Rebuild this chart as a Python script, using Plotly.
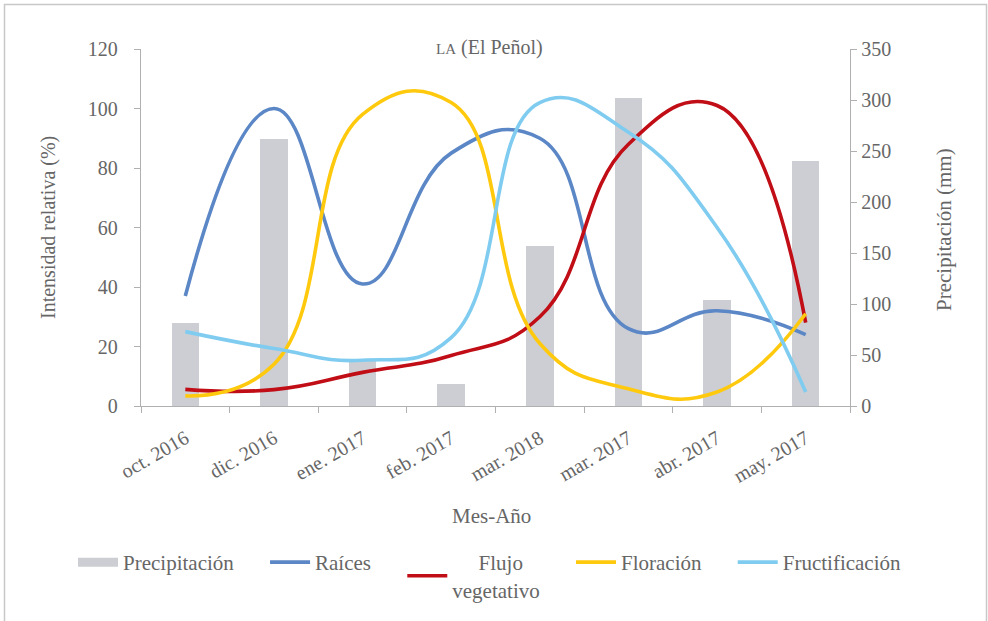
import plotly.graph_objects as go

# Monthly phenology intensities (%) and rainfall (mm) for the LA (El Peñol) site
months = ["oct. 2016", "dic. 2016", "ene. 2017", "feb. 2017",
          "mar. 2018", "mar. 2017", "abr. 2017", "may. 2017"]
precipitacion = [81, 262, 45, 22, 157, 302, 104, 240]
raices = [37, 100, 41, 85, 90, 26, 32, 24]
flujo_vegetativo = [5.6, 5.5, 11.3, 17, 30, 88, 101, 28]
floracion = [3.4, 14, 98, 102, 21, 5.8, 4.7, 31]
fructificacion = [25, 19.3, 15.4, 23, 102, 92, 60, 4.7]

W, H = 988, 621
L, R, T, B = 141, 850, 49, 406   # plot area in pixels


def px_x(x):
    return (x - L) / (R - L)


def px_y(y):
    return (B - y) / (B - T)


FONT = "Liberation Serif, DejaVu Serif, serif"
TXT = "#666666"
AXIS = "#b0b0b0"
BAR = "#cdced3"
GAP = "&nbsp;" * 5   # extra room between legend entries

fig = go.Figure()

fig.add_trace(go.Bar(
    x=months, y=precipitacion, name="Precipitación",
    marker=dict(color=BAR, line=dict(width=0)),
    width=0.31, yaxis="y", showlegend=False,
))
# wide grey swatch for the rainfall legend entry
fig.add_trace(go.Scatter(
    x=[None], y=[None], name="Precipitación" + GAP, mode="lines", yaxis="y",
    line=dict(color=BAR, width=9),
))

series = [
    ("Raíces" + GAP, raices, "#5b87c6"),
    ("&nbsp;&nbsp;&nbsp;&nbsp;&nbsp;Flujo<br>vegetativo" + GAP,
     flujo_vegetativo, "#c00d16"),
    ("Floración" + GAP, floracion, "#ffc90e"),
    ("Fructificación", fructificacion, "#7fccf0"),
]
for name, vals, col in series:
    fig.add_trace(go.Scatter(
        x=months, y=vals, name=name, mode="lines", yaxis="y2",
        line=dict(color=col, width=3.6, shape="spline", smoothing=1.3),
    ))

fig.update_layout(
    width=W, height=H,
    margin=dict(l=L, r=W - R, t=T, b=H - B, autoexpand=False),
    paper_bgcolor="white", plot_bgcolor="white",
    font=dict(family=FONT, size=20, color=TXT),
    showlegend=True,
    legend=dict(orientation="h", xref="paper", yref="paper",
                x=px_x(73), xanchor="left",
                y=px_y(576), yanchor="middle",
                font=dict(family=FONT, size=21, color=TXT),
                itemwidth=40, traceorder="normal"),
    bargap=0,
    xaxis=dict(
        type="category", categoryorder="array", categoryarray=months,
        range=[-0.5, 7.5], tickson="boundaries", automargin=False,
        showline=True, linecolor=AXIS, linewidth=1.3,
        ticks="outside", ticklen=6, tickcolor=AXIS, tickwidth=1.3,
        tickangle=-30, showgrid=False, zeroline=False,
        ticklabelstandoff=12,
        tickfont=dict(family=FONT, size=20, color=TXT),
    ),
    yaxis=dict(
        side="right", range=[0, 350], tickvals=list(range(0, 351, 50)),
        automargin=False,
        showline=True, linecolor=AXIS, linewidth=1.3,
        ticks="outside", ticklen=6, tickcolor=AXIS, tickwidth=1.3,
        showgrid=False, zeroline=False,
        tickfont=dict(family=FONT, size=20, color=TXT),
    ),
    yaxis2=dict(
        side="left", overlaying="y", range=[0, 120],
        tickvals=list(range(0, 121, 20)), automargin=False,
        showline=True, linecolor=AXIS, linewidth=1.3,
        ticks="outside", ticklen=6, tickcolor=AXIS, tickwidth=1.3,
        showgrid=False, zeroline=False, ticklabelstandoff=12,
        tickfont=dict(family=FONT, size=20, color=TXT),
    ),
)

annotations = [
    dict(text='<span style="font-size:15px">LA</span> (El Peñol)',
         x=px_x(489), y=px_y(47), font=dict(size=20)),
    dict(text="Intensidad relativa (%)", x=px_x(48), y=px_y(228),
         textangle=-90, font=dict(size=20)),
    dict(text="Precipitación (mm)", x=px_x(944), y=px_y(230),
         textangle=-90, font=dict(size=21)),
    dict(text="Mes-Año", x=px_x(491), y=px_y(516), font=dict(size=21)),
]
for a in annotations:
    a.update(xref="paper", yref="paper", showarrow=False,
             xanchor="center", yanchor="middle")
fig.update_layout(annotations=annotations)

# thin frame around the whole figure
fig.add_shape(type="rect", xref="paper", yref="paper",
              x0=px_x(4.5), x1=px_x(986.5), y0=px_y(640), y1=px_y(4.5),
              line=dict(color="#c8c8c8", width=1.5), fillcolor="rgba(0,0,0,0)",
              layer="below")

fig.write_html("out.html")
